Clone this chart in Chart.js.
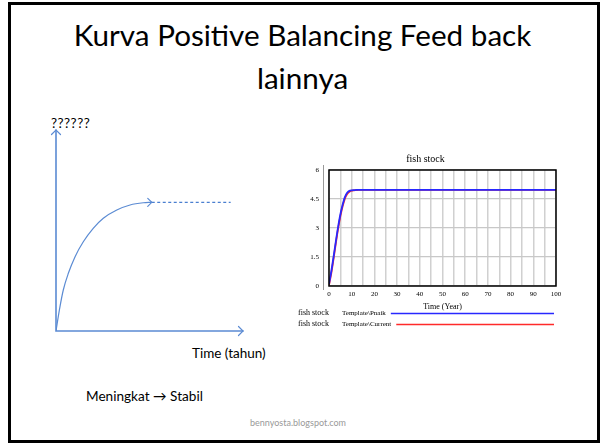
<!DOCTYPE html>
<html>
<head>
<meta charset="utf-8">
<script src="https://cdn.jsdelivr.net/npm/chart.js@4/dist/chart.umd.min.js"></script>
<style>
  html, body { margin: 0; padding: 0; background: #fff; width: 605px; height: 443px; overflow: hidden; }
  .frame { position: absolute; left: 8px; top: 2px; width: 592px; height: 441px; box-sizing: border-box; border: 3px solid #000; }
  .txt { position: absolute; white-space: nowrap; color: #000; font-family: Lato, "Open Sans", sans-serif; }
  canvas { position: absolute; }
</style>
</head>
<body>
<div class="frame"></div>
<div class="txt" id="title1" style="left:0; width:605px; text-align:center; top:14px; line-height:42px; font-size:28px;">Kurva Positive Balancing Feed back</div>
<div class="txt" id="title2" style="left:0; width:605px; text-align:center; top:57px; line-height:42px; font-size:28px;">lainnya</div>
<div class="txt" style="left:51px; top:115px; line-height:16px; font-size:13.5px; letter-spacing:0.5px;">??????</div>
<div class="txt" style="left:192px; top:345px; line-height:16px; font-size:13.5px;">Time (tahun)</div>
<div class="txt" style="left:86px; top:388px; line-height:16px; font-size:13.6px;">Meningkat → Stabil</div>
<div class="txt" style="left:250px; top:417px; line-height:12px; font-size:9px; color:#999;">bennyosta.blogspot.com</div>

<canvas id="sketch" width="220" height="230" style="left:40px; top:115px;"></canvas>
<canvas id="fish" width="275" height="190" style="left:295px; top:145px;"></canvas>

<script>
// ---------- data: left sketch (arbitrary units 0..100) ----------
const sketchCurveX = [0, 1.8, 3.9, 6.6, 10.2, 14.6, 19.9, 25.3, 32.5, 39.6, 46.7, 51.2];
const sketchCurveY = [0, 10.4, 20.4, 28.7, 37.0, 44.4, 51.1, 56.1, 60.2, 62.7, 63.8, 64.0];
const sketchDashX = [51.2, 93.4];
const sketchDashY = [64.0, 64.0];

// ---------- data: fish stock simulation ----------
const years = [0, 1, 2, 3, 4, 5, 6, 7, 8, 9, 10, 11, 12, 13, 14, 15, 20, 30, 40, 50, 60, 70, 80, 90, 100];
const fishPnaik = [0.1, 0.75, 1.5, 2.3, 3.05, 3.7, 4.2, 4.6, 4.82, 4.92, 4.95, 4.96, 4.97, 4.97, 4.97, 4.97, 4.97, 4.97, 4.97, 4.97, 4.97, 4.97, 4.97, 4.97, 4.97];
const fishCurrent = [0.05, 0.65, 1.4, 2.2, 2.95, 3.6, 4.12, 4.52, 4.76, 4.88, 4.93, 4.95, 4.96, 4.97, 4.97, 4.97, 4.97, 4.97, 4.97, 4.97, 4.97, 4.97, 4.97, 4.97, 4.97];
const yTicks = [0, 1.5, 3, 4.5, 6];
const seriesVar = 'fish stock';
const seriesRuns = ['Template\\Pnaik', 'Template\\Current'];

// fit title width
(function(){
  const t = document.getElementById('title1');
  const span = document.createElement('span'); span.textContent = t.textContent;
  span.style.font = getComputedStyle(t).font; span.style.position='absolute'; span.style.visibility='hidden'; span.style.whiteSpace='nowrap';
  document.body.appendChild(span);
  const w = span.getBoundingClientRect().width;
  const fs = 28 * 458 / w;
  document.body.removeChild(span);
  t.style.fontSize = fs + 'px';
  document.getElementById('title2').style.fontSize = fs + 'px';
})();

const blueLine = '#5b8bd3';
function pts(xs, ys) { return xs.map((x, i) => ({x: x, y: ys[i]})); }

function chevron(ctx, x, y, dir, size) {
  ctx.beginPath();
  if (dir === 'right') { ctx.moveTo(x - size, y - size); ctx.lineTo(x, y); ctx.lineTo(x - size, y + size); }
  else { ctx.moveTo(x - size, y + size); ctx.lineTo(x, y); ctx.lineTo(x + size, y + size); }
  ctx.stroke();
}

const sketchAxes = {
  id: 'sketchAxes',
  afterDatasetsDraw(chart) {
    const ctx = chart.ctx, xs = chart.scales.x, ys = chart.scales.y;
    const x0 = xs.getPixelForValue(0), y0 = ys.getPixelForValue(0);
    const xEnd = xs.getPixelForValue(100), yEnd = ys.getPixelForValue(100);
    ctx.save();
    ctx.strokeStyle = blueLine; ctx.lineWidth = 1.6; ctx.lineCap = 'round';
    ctx.beginPath(); ctx.moveTo(x0, yEnd); ctx.lineTo(x0, y0); ctx.lineTo(xEnd, y0); ctx.stroke();
    ctx.lineWidth = 1.2;
    chevron(ctx, xEnd, y0, 'right', 4.5);
    chevron(ctx, x0, yEnd, 'up', 4.5);
    const lx = xs.getPixelForValue(sketchCurveX[sketchCurveX.length - 1]);
    const ly = ys.getPixelForValue(sketchCurveY[sketchCurveY.length - 1]);
    chevron(ctx, lx, ly, 'right', 4);
    ctx.restore();
  }
};

new Chart(document.getElementById('sketch'), {
  type: 'scatter',
  data: {
    datasets: [
      { data: pts(sketchCurveX, sketchCurveY), showLine: true, borderColor: blueLine, borderWidth: 1.2, pointRadius: 0, cubicInterpolationMode: 'monotone', fill: false },
      { data: pts(sketchDashX, sketchDashY), showLine: true, borderColor: '#4a7fd0', borderWidth: 1.3, borderDash: [3, 2.5], pointRadius: 0, fill: false }
    ]
  },
  options: {
    responsive: false, animation: false, events: [],
    layout: { padding: { left: 16, right: 17, top: 15, bottom: 14 } },
    plugins: { legend: { display: false }, tooltip: { enabled: false }, title: { display: false } },
    scales: {
      x: { type: 'linear', display: false, min: 0, max: 100 },
      y: { type: 'linear', display: false, min: 0, max: 100 }
    }
  },
  plugins: [sketchAxes]
});

const fishDecor = {
  id: 'fishDecor',
  afterDatasetsDraw(chart) {
    const ctx = chart.ctx, a = chart.chartArea;
    ctx.save();
    ctx.strokeStyle = '#000'; ctx.lineWidth = 1.5;
    ctx.strokeRect(a.left, a.top, a.right - a.left, a.bottom - a.top);
    ctx.strokeStyle = '#999'; ctx.lineWidth = 1;
    ctx.beginPath(); ctx.moveTo(a.left - 5.5, a.top - 5); ctx.lineTo(a.left - 5.5, a.bottom + 4); ctx.stroke();
    // legend
    ctx.fillStyle = '#000'; ctx.textBaseline = 'middle';
    const rows = [a.bottom + 27, a.bottom + 38];
    chart.data.datasets.forEach((ds, i) => {
      const y = rows[i];
      ctx.font = '8px "Liberation Serif"';
      ctx.fillText(seriesVar, 3, y);
      ctx.font = '7px "Liberation Serif"';
      ctx.fillText(ds.label, 47, y);
      const tw = ctx.measureText(ds.label).width;
      ctx.strokeStyle = ds.borderColor; ctx.lineWidth = 1.5;
      ctx.beginPath(); ctx.moveTo(Math.max(47 + tw + 5, 93), y + 0.5); ctx.lineTo(a.right - 2, y + 0.5); ctx.stroke();
    });
    ctx.restore();
  }
};

new Chart(document.getElementById('fish'), {
  type: 'scatter',
  data: {
    datasets: [
      { label: seriesRuns[0], data: pts(years, fishPnaik), showLine: true, borderColor: 'rgb(40,40,255)', borderWidth: 1.8, pointRadius: 0, cubicInterpolationMode: 'monotone', fill: false },
      { label: seriesRuns[1], data: pts(years, fishCurrent), showLine: true, borderColor: '#ff2a2a', borderWidth: 1.8, pointRadius: 0, cubicInterpolationMode: 'monotone', fill: false }
    ]
  },
  options: {
    responsive: false, animation: false, events: [],
    layout: { padding: { left: 0, right: 14, top: 8, bottom: 23 } },
    plugins: {
      legend: { display: false }, tooltip: { enabled: false },
      title: { display: true, text: seriesVar, color: '#000', font: { family: 'Liberation Serif', size: 10, weight: 'normal' }, padding: { top: 0, bottom: 5 } }
    },
    scales: {
      x: {
        type: 'linear', min: 0, max: 100,
        afterFit: s => { s.height = 26; },
        border: { display: false },
        grid: { color: '#d0d0d0', lineWidth: 1.5, drawTicks: false },
        ticks: { stepSize: 5, padding: 4, maxRotation: 0, autoSkip: false, color: '#000', font: { family: 'Liberation Serif', size: 7 }, callback: v => (v % 10 === 0 ? String(v) : '') },
        title: { display: true, text: 'Time (Year)', color: '#000', font: { family: 'Liberation Serif', size: 8 }, padding: { top: 1, bottom: 0 } }
      },
      y: {
        type: 'linear', min: 0, max: 6,
        afterFit: s => { s.width = 34; },
        afterBuildTicks: s => { s.ticks = yTicks.map(v => ({ value: v })); },
        border: { display: false },
        grid: { color: '#c8c8c8', lineWidth: 1.2, drawTicks: false },
        ticks: { padding: 10, color: '#000', font: { family: 'Liberation Serif', size: 7 }, callback: v => String(v) }
      }
    }
  },
  plugins: [fishDecor]
});
</script>
</body>
</html>
